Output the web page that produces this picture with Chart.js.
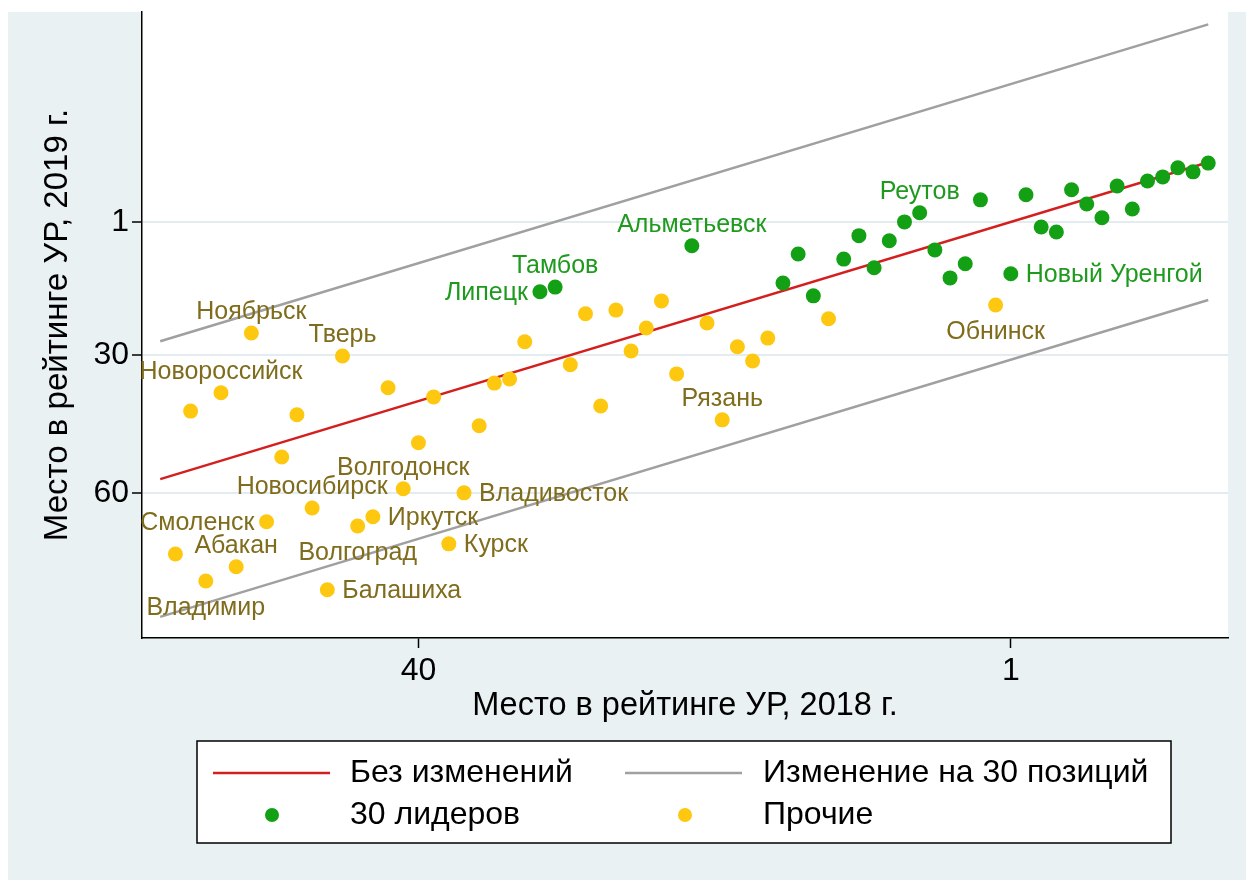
<!DOCTYPE html>
<html>
<head>
<meta charset="utf-8">
<script src="https://cdn.jsdelivr.net/npm/chart.js@4"></script>
<style>
  body { margin: 0; background: #fff; }
  #wrap { width: 1246px; height: 880px; }
</style>
</head>
<body>
<div id="wrap"><canvas id="chart" width="1246" height="880"></canvas></div>
<script>
// 30 leaders (green)
const leaderX = [32, 31, 22, 16, 15, 14, 12, 11, 10, 9, 8, 7, 6, 5, 4, 3, 1, 0, -1, -2, -3, -4, -5, -6, -7, -8, -9, -10, -11, -12];
const leaderY = [16.2, 15.2, 6.2, 14.3, 8.0, 17.1, 9.1, 4.0, 11.0, 5.1, 1.0, -1.0, 7.1, 13.2, 10.1, -3.8, 12.3, -4.9, 2.1, 3.2, -6.0, -2.9, 0.1, -6.8, -1.8, -7.9, -8.8, -10.8, -9.9, -11.8];
const leaderNames = ['Липецк', 'Тамбов', 'Альметьевск', '', '', '', '', '', '', '', '', 'Реутов', '', '', '', '', 'Новый Уренгой', '', '', '', '', '', '', '', '', '', '', '', '', ''];

// others (yellow)
const otherX = [56, 55, 54, 53, 52, 51, 50, 49, 48, 47, 46, 45, 44, 43, 42, 41, 40, 39, 38, 37, 36, 35, 34, 33, 30, 29, 28, 27, 26, 25, 24, 23, 21, 20, 19, 18, 17, 13, 2];
const otherY = [73.3, 42.2, 79.2, 38.2, 76.1, 25.2, 66.3, 52.2, 43.0, 63.3, 81.1, 30.2, 67.2, 65.2, 37.1, 59.1, 49.1, 39.1, 71.1, 60.0, 45.4, 36.1, 35.2, 27.1, 32.1, 21.0, 41.1, 20.2, 29.1, 24.1, 18.2, 34.1, 23.0, 44.1, 28.2, 31.3, 26.3, 22.1, 19.1];
const otherNames = ['', '', 'Владимир', 'Новороссийск', 'Абакан', 'Ноябрьск', 'Смоленск', '', '', 'Новосибирск', 'Балашиха', 'Тверь', 'Волгоград', 'Иркутск', '', 'Волгодонск', '', '', 'Курск', 'Владивосток', '', '', '', '', '', '', '', '', '', '', '', '', '', 'Рязань', '', '', '', '', 'Обнинск'];

// reference lines
const lineX = [57, -12];
const noChangeY = [57, -12];
const upperY = [27, -42];
const lowerY = [87, 18];

const xTicks = [40, 1];
const yTicks = [1, 30, 60];

// where each label sits relative to its marker
const labelPos = {
  'Липецк': 'W', 'Смоленск': 'W',
  'Новый Уренгой': 'E', 'Балашиха': 'E', 'Иркутск': 'E', 'Курск': 'E', 'Владивосток': 'E',
  'Владимир': 'S', 'Волгоград': 'S', 'Обнинск': 'S'
};

const FONT = "'Liberation Sans', Arial, sans-serif";
const GREEN = '#14a014';
const GOLD = '#fdc80f';

function pts(xs, ys) {
  return xs.map((x, i) => ({ x: x, y: ys[i] }));
}

const bgPlugin = {
  id: 'bg',
  beforeDraw(chart) {
    const ctx = chart.ctx;
    const a = chart.chartArea;
    ctx.save();
    ctx.fillStyle = '#ffffff';
    ctx.fillRect(0, 0, chart.width, chart.height);
    ctx.fillStyle = '#eaf1f3';
    ctx.fillRect(8, 12, chart.width - 8, chart.height - 12);
    ctx.fillStyle = '#ffffff';
    ctx.fillRect(a.left, a.top, a.right - a.left, a.bottom - a.top);
    ctx.restore();
  }
};

const labelPlugin = {
  id: 'pointLabels',
  afterDatasetsDraw(chart) {
    const ctx = chart.ctx;
    ctx.save();
    ctx.font = '25px ' + FONT;
    ctx.textBaseline = 'middle';
    [[0, leaderNames, '#1f9a1f'], [1, otherNames, '#7f6c1c']].forEach(([di, names, col]) => {
      const meta = chart.getDatasetMeta(di);
      ctx.fillStyle = col;
      names.forEach((name, i) => {
        if (!name) return;
        const p = meta.data[i];
        const pos = labelPos[name] || 'N';
        if (pos === 'N') { ctx.textAlign = 'center'; ctx.fillText(name, p.x, p.y - 21); }
        else if (pos === 'S') { ctx.textAlign = 'center'; ctx.fillText(name, p.x, p.y + 27); }
        else if (pos === 'E') { ctx.textAlign = 'left'; ctx.fillText(name, p.x + 15, p.y + 1); }
        else { ctx.textAlign = 'right'; ctx.fillText(name, p.x - 12, p.y + 1); }
      });
    });
    ctx.restore();
  }
};

const legendPlugin = {
  id: 'boxLegend',
  afterDraw(chart) {
    const ctx = chart.ctx;
    ctx.save();
    ctx.fillStyle = '#fff';
    ctx.fillRect(197, 741, 974, 102);
    ctx.strokeStyle = '#000';
    ctx.lineWidth = 1.5;
    ctx.strokeRect(197, 741, 974, 102);

    ctx.lineWidth = 2.5;
    ctx.strokeStyle = '#d41f1f';
    ctx.beginPath(); ctx.moveTo(213, 773); ctx.lineTo(330, 773); ctx.stroke();
    ctx.strokeStyle = '#a0a0a0';
    ctx.beginPath(); ctx.moveTo(625, 773); ctx.lineTo(742, 773); ctx.stroke();

    ctx.fillStyle = GREEN;
    ctx.beginPath(); ctx.arc(272, 815, 7, 0, Math.PI * 2); ctx.fill();
    ctx.fillStyle = GOLD;
    ctx.beginPath(); ctx.arc(685, 815, 7, 0, Math.PI * 2); ctx.fill();

    ctx.fillStyle = '#000';
    ctx.font = '32px ' + FONT;
    ctx.textBaseline = 'middle';
    ctx.textAlign = 'left';
    ctx.fillText('Без изменений', 350, 773);
    ctx.fillText('Изменение на 30 позиций', 763, 773);
    ctx.fillText('30 лидеров', 350, 815);
    ctx.fillText('Прочие', 763, 815);
    ctx.restore();
  }
};

new Chart(document.getElementById('chart'), {
  type: 'scatter',
  data: {
    datasets: [
      { label: '30 лидеров', data: pts(leaderX, leaderY), backgroundColor: GREEN, borderColor: GREEN, pointRadius: 7.5, borderWidth: 0 },
      { label: 'Прочие', data: pts(otherX, otherY), backgroundColor: GOLD, borderColor: GOLD, pointRadius: 7.5, borderWidth: 0 },
      { type: 'line', label: 'Без изменений', data: pts(lineX, noChangeY), borderColor: '#d41f1f', borderWidth: 2.5, pointRadius: 0, fill: false },
      { type: 'line', label: 'Изменение на 30 позиций', data: pts(lineX, upperY), borderColor: '#a0a0a0', borderWidth: 2.5, pointRadius: 0, fill: false },
      { type: 'line', label: 'Изменение на 30 позиций', data: pts(lineX, lowerY), borderColor: '#a0a0a0', borderWidth: 2.5, pointRadius: 0, fill: false }
    ]
  },
  options: {
    responsive: false,
    animation: false,
    layout: { padding: { left: 0, top: 12, right: 18, bottom: 142 } },
    plugins: { legend: { display: false }, tooltip: { enabled: false } },
    scales: {
      x: {
        type: 'linear', reverse: true, min: -13.3, max: 58.2,
        afterBuildTicks: (s) => { s.ticks = xTicks.map(v => ({ value: v })); },
        afterFit: (s) => { s.height = 100; s.paddingLeft = 0; s.paddingRight = 0; },
        grid: { drawOnChartArea: false, tickLength: 10, tickColor: '#000', tickWidth: 1.5 },
        border: { color: '#000', width: 1.5 },
        ticks: { font: { family: FONT, size: 32 }, color: '#000', padding: 4, maxRotation: 0 },
        title: { display: true, text: 'Место в рейтинге УР, 2018 г.', font: { family: FONT, size: 32.5 }, color: '#000', padding: { top: 0, bottom: 12 } }
      },
      y: {
        type: 'linear', reverse: true, min: -44.7, max: 91.6,
        afterBuildTicks: (s) => { s.ticks = yTicks.map(v => ({ value: v })); },
        afterFit: (s) => { s.width = 142; s.paddingTop = 0; s.paddingBottom = 0; },
        grid: { color: '#e3ecef', lineWidth: 2, tickLength: 10, tickColor: '#000', tickWidth: 1.5 },
        border: { color: '#000', width: 1.5 },
        ticks: { font: { family: FONT, size: 32 }, color: '#000', padding: 3 },
        title: { display: true, text: 'Место в рейтинге УР, 2019 г.', font: { family: FONT, size: 33 }, color: '#000', padding: { top: 38, bottom: 0 } }
      }
    }
  },
  plugins: [bgPlugin, labelPlugin, legendPlugin]
});
</script>
</body>
</html>
